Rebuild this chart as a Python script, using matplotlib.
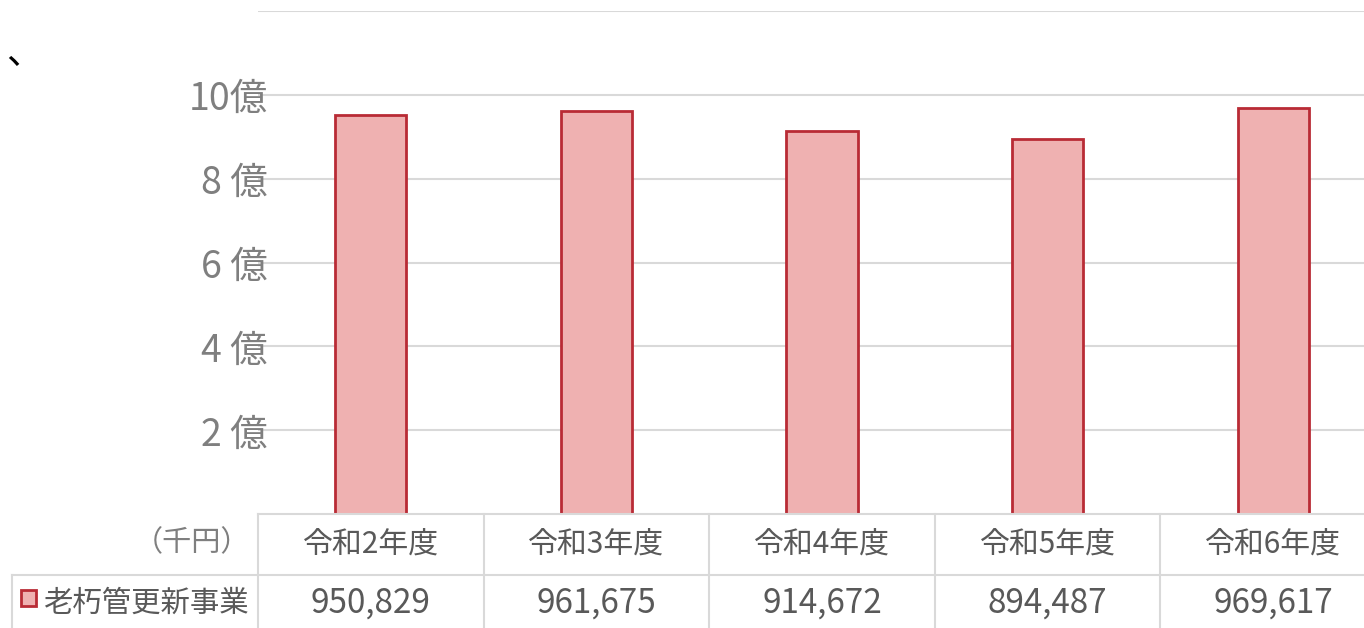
import matplotlib
matplotlib.use("Agg")
import matplotlib.pyplot as plt
from matplotlib.transforms import blended_transform_factory, offset_copy
import numpy as np

plt.rcParams['font.family'] = ['Noto Sans CJK JP', 'DejaVu Sans']

# データ（千円）
years = ['令和2年度', '令和3年度', '令和4年度', '令和5年度', '令和6年度']
amounts = [950829, 961675, 914672, 894487, 969617]
series_name = '老朽管更新事業'
unit_label = '（千円）'
tick_vals = [2, 4, 6, 8, 10]
tick_labels = ['2 億', '4 億', '6 億', '8 億', '10億']

W, H = 1364, 628
fig = plt.figure(figsize=(W / 100, H / 100), dpi=100)

def fx(px):
    return px / W

def fy(py):
    return 1 - py / H

# 右端は少し切れている
ax = fig.add_axes([fx(258), fy(514), fx(1386 - 258), fy(11) - fy(514)])

fill_c = '#efb1b1'
edge_c = '#b92b35'
grid_c = '#d9d9d9'
text_c = '#595959'

x = np.arange(len(years))
oku = np.array(amounts) / 1e5  # 千円 -> 億円
ax.bar(x, oku, width=0.315, color=fill_c, edgecolor=edge_c, linewidth=2, zorder=3)

ax.set_xlim(-0.5, len(years) - 0.5)
ax.set_ylim(0, 12)
for v in tick_vals + [12]:
    ax.axhline(v, color=grid_c, linewidth=1.5, zorder=1)
ax.set_xticks([])
ax.set_yticks([])
for s in ax.spines.values():
    s.set_visible(False)

# 目盛りラベル（少し下にずれている）
ytr = offset_copy(blended_transform_factory(fig.transFigure, ax.transData),
                  fig=fig, y=-5, units='dots')
for v, lab in zip(tick_vals, tick_labels):
    fig.text(fx(268), v, lab, transform=ytr, ha='right', va='center',
             fontsize=27, color='#7f7f7f')

# 表
tr = blended_transform_factory(ax.transData, fig.transFigure)
line_kw = dict(color=grid_c, linewidth=1.5, clip_on=False)
fig.add_artist(plt.Line2D([fx(258), 1], [fy(514), fy(514)], transform=fig.transFigure, **line_kw))
fig.add_artist(plt.Line2D([fx(12), 1], [fy(575), fy(575)], transform=fig.transFigure, **line_kw))
fig.add_artist(plt.Line2D([fx(12), fx(12)], [fy(575), 0], transform=fig.transFigure, **line_kw))
for b in np.arange(len(years)) - 0.5:
    fig.add_artist(plt.Line2D([b, b], [fy(514), 0], transform=tr, **line_kw))

for xi, yr, amt in zip(x, years, amounts):
    fig.text(xi, fy(545), yr, transform=tr, ha='center', va='center',
             fontsize=21.5, color=text_c)
    fig.text(xi, fy(603), f'{amt:,}', transform=tr, ha='center', va='center',
             fontsize=24, color=text_c)

fig.text(fx(250), fy(543), unit_label, ha='right', va='center', fontsize=21, color='#7f7f7f')
fig.add_artist(plt.Rectangle((fx(21), fy(606)), fx(15), fy(590) - fy(606),
                             transform=fig.transFigure, facecolor=fill_c,
                             edgecolor=edge_c, linewidth=2))
fig.text(fx(43), fy(603), series_name, ha='left', va='center', fontsize=21.2, color=text_c)

# 左上の切れた文字
fig.text(fx(6), fy(54), '、', ha='left', va='center', fontsize=26, color='black')

fig.savefig('out.png', dpi=100)
